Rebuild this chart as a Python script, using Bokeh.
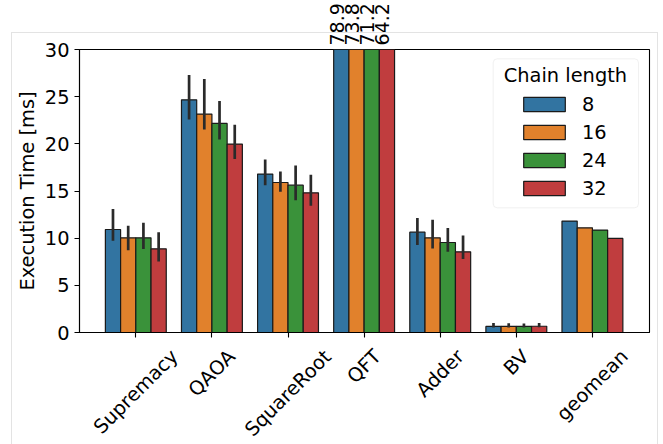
import math
from bokeh.plotting import figure
from bokeh.layouts import column
from bokeh.models import (ColumnDataSource, FixedTicker, Range1d, Legend, LegendItem,
                          BoxAnnotation, Label, LinearAxis, InlineStyleSheet)
from bokeh.core.properties import value
from bokeh.embed import file_html
from bokeh.resources import INLINE

nan = float("nan")

benchmarks = ["Supremacy", "QAOA", "SquareRoot", "QFT", "Adder", "BV", "geomean"]
chain_lengths = ["8", "16", "24", "32"]

time_8 = [10.92, 24.67, 16.79, 78.9, 10.64, 0.64, 11.81]
time_16 = [10.04, 23.15, 15.90, 73.8, 10.04, 0.64, 11.10]
time_24 = [10.04, 22.16, 15.62, 71.2, 9.54, 0.64, 10.86]
time_32 = [8.87, 19.97, 14.81, 64.2, 8.55, 0.66, 9.97]

ci_low_8 = [9.72, 22.58, 15.62, nan, 9.27, 0.53, nan]
ci_high_8 = [13.08, 27.29, 18.34, nan, 12.13, 1.00, nan]
ci_low_16 = [8.73, 21.52, 14.92, nan, 8.90, 0.53, nan]
ci_high_16 = [11.31, 26.86, 17.07, nan, 11.95, 0.98, nan]
ci_low_24 = [8.84, 20.46, 14.03, nan, 8.55, 0.53, nan]
ci_high_24 = [11.63, 24.53, 17.70, nan, 11.07, 0.95, nan]
ci_low_32 = [7.53, 18.38, 13.43, nan, 7.78, 0.55, nan]
ci_high_32 = [10.64, 22.02, 16.72, nan, 10.28, 1.00, nan]

y_ticks = [0, 5, 10, 15, 20, 25, 30]

series = [time_8, time_16, time_24, time_32]
lows = [ci_low_8, ci_low_16, ci_low_24, ci_low_32]
highs = [ci_high_8, ci_high_16, ci_high_24, ci_high_32]
colors = ["#3274a1", "#e1812c", "#3a923a", "#c03d3e"]

FONT = "DejaVu Sans"
FS_PX = 19.4
FS = f"{FS_PX}px"
Y_MAX = y_ticks[-1]
W = 663
B_LEFT, B_RIGHT = 79, 14
B_TOP, FRAME_H, B_BOTTOM = 49, 283, 12
H_MAIN = B_TOP + FRAME_H + B_BOTTOM
H_BOT = 444 - H_MAIN
X_START, X_END = -0.74, 6.75
PPU = (W - B_LEFT - B_RIGHT) / (X_END - X_START)

x_range = Range1d(X_START, X_END)

# ---------------- main plot ----------------
p = figure(width=W, height=H_MAIN, output_backend="svg", toolbar_location=None, title=None,
           x_range=x_range, y_range=Range1d(0, Y_MAX),
           min_border_left=B_LEFT, min_border_right=B_RIGHT, min_border_top=B_TOP,
           min_border_bottom=B_BOTTOM)
p.background_fill_color = "white"
p.border_fill_color = None
p.outline_line_color = "black"
p.outline_line_width = 1.1
p.xgrid.visible = False
p.ygrid.visible = False
xax = p.below[0]
yax = p.left[0]

n_groups = len(series)
group_w = 0.8
bar_w = group_w / n_groups
renderers = []
clip_ticks, clip_text = [], {}
for j in range(n_groups):
    off = (j - (n_groups - 1) / 2) * bar_w
    xs = [i + off for i in range(len(benchmarks))]
    src = ColumnDataSource(dict(x=xs, top=series[j], lo=lows[j], hi=highs[j]))
    r = p.vbar(x="x", top="top", width=bar_w, source=src, fill_color=colors[j],
               line_color="#1a1a1a", line_width=1.2)
    p.segment(x0="x", y0="lo", x1="x", y1="hi", source=src,
              line_color="#2a2a2a", line_width=2.7)
    renderers.append(r)
    for k, v in enumerate(series[j]):
        if v > Y_MAX:
            t = round(xs[k] - 4.5 / PPU, 6)
            clip_ticks.append(t)
            clip_text[t] = f"{v:.1f}"

xax.ticker = FixedTicker(ticks=list(range(len(benchmarks))))
xax.major_label_text_font_size = "0px"
xax.major_label_text_color = None
xax.major_label_standoff = 0
yax.ticker = FixedTicker(ticks=y_ticks)
for ax in (xax, yax):
    ax.axis_line_color = "black"
    ax.axis_line_width = 1.1
    ax.major_tick_line_color = "black"
    ax.major_tick_line_width = 1.1
    ax.major_tick_out = 5
    ax.major_tick_in = 0
    ax.minor_tick_out = 0
    ax.minor_tick_in = 0
    ax.major_label_text_font = FONT
yax.major_label_text_color = "black"
yax.major_label_text_font_size = FS
yax.major_label_standoff = 5
yax.axis_label = "Execution Time [ms]"
yax.axis_label_text_font = FONT
yax.axis_label_text_font_size = FS
yax.axis_label_text_font_style = "normal"
yax.axis_label_text_color = "black"
yax.axis_label_standoff = 3

# values of the bars that run past the top of the axis
top_axis = LinearAxis(ticker=FixedTicker(ticks=clip_ticks), major_label_overrides=clip_text,
                      major_label_orientation="vertical", axis_line_color=None,
                      major_tick_line_color=None, minor_tick_line_color=None,
                      major_tick_out=0, major_tick_in=0, minor_tick_out=0, minor_tick_in=0,
                      major_label_standoff=4, major_label_text_font=FONT,
                      major_label_text_font_size="19px", major_label_text_color="black")
p.add_layout(top_axis, "above")

# legend (box + title drawn separately so the swatches sit centred like matplotlib's)
p.add_layout(BoxAnnotation(left=492.7, right=638, top=58.3, bottom=207.3,
                           left_units="canvas", right_units="canvas",
                           top_units="canvas", bottom_units="canvas",
                           fill_color="white", fill_alpha=0.8,
                           line_color="#d0d0d0", line_width=1, border_radius=4))
p.add_layout(Label(x=564.9, y=75, x_units="canvas", y_units="canvas",
                   text="Chain length", text_align="center", text_baseline="middle",
                   text_font=FONT, text_font_size=FS, text_color="black"))
legend = Legend(items=[LegendItem(label=c, renderers=[r]) for c, r in zip(chain_lengths, renderers)],
                location="top_right", margin=30, padding=11,
                glyph_width=52, glyph_height=18, label_standoff=12, label_width=26,
                label_height=28, spacing=0, background_fill_alpha=0, border_line_alpha=0,
                label_text_font=FONT, label_text_font_size=FS, label_text_color="black")
p.add_layout(legend)

# ---------------- category labels (rotated 45 deg, centred under the ticks) ----------------
char_w = {"S": .635, "u": .634, "p": .635, "r": .411, "e": .615, "m": .974, "a": .613,
          "c": .550, "y": .592, "Q": .787, "A": .684, "O": .787, "q": .635, "R": .695,
          "o": .612, "t": .392, "F": .575, "T": .611, "d": .635, "B": .686, "V": .684,
          "g": .635, "n": .634}
s45 = math.sin(math.pi / 4)
line_h = 1.164 * FS_PX
gap = 0.5   # top of the rotated label box relative to the top of this strip
lab_y = []
for name in benchmarks:
    w = sum(char_w.get(ch, 0.6) for ch in name) * FS_PX
    lab_y.append(H_BOT - gap - (w + line_h) * s45 / 2)

p_bot = figure(width=W, height=H_BOT, output_backend="svg", toolbar_location=None,
               title=None, x_range=x_range, y_range=Range1d(0, H_BOT),
               min_border_left=B_LEFT, min_border_right=B_RIGHT, min_border_top=0,
               min_border_bottom=0, x_axis_type=None, y_axis_type=None)
p_bot.outline_line_color = None
p_bot.xgrid.visible = False
p_bot.ygrid.visible = False
p_bot.background_fill_color = None
p_bot.border_fill_color = None
p_bot.text(x="x", y="y", text="t",
           source=ColumnDataSource(dict(x=list(range(len(benchmarks))), y=lab_y, t=benchmarks)),
           angle=math.pi / 4, text_align="center", text_baseline="middle",
           text_font=value(FONT), text_font_size=value(FS), text_color="black")

layout = column(p, p_bot, spacing=0)
layout.stylesheets = [InlineStyleSheet(css=(
    ":host::after{content:'';position:absolute;left:11px;top:32px;width:645px;"
    "height:440px;border:1px solid #e3e3e3;pointer-events:none;}"))]

open("out.html", "w").write(file_html(layout, INLINE))
